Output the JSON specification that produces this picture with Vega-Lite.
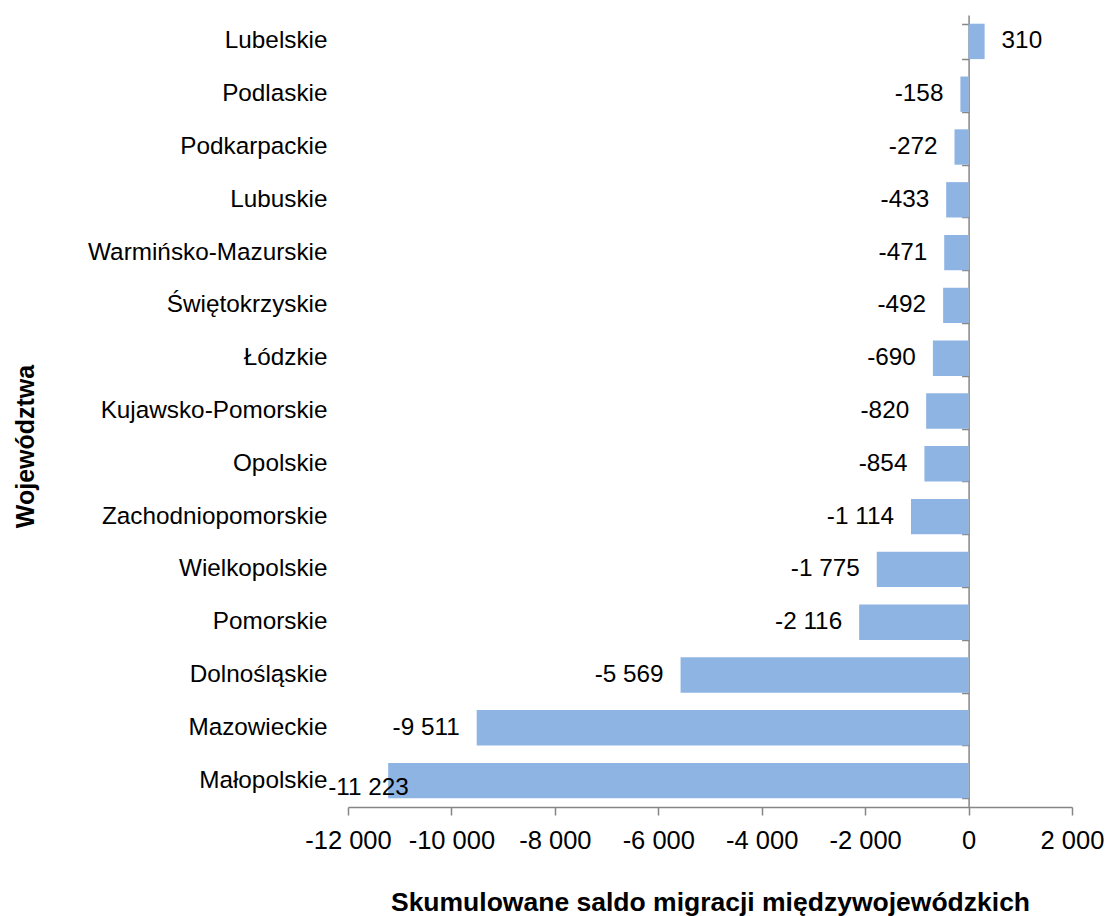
{
  "$schema": "https://vega.github.io/schema/vega-lite/v6.json",
  "width": 724,
  "height": 792,
  "autosize": {"type": "none"},
  "padding": {"left": 348, "top": 15, "right": 35, "bottom": 109},
  "background": "white",
  "config": {
    "view": {"stroke": null},
    "font": "Liberation Sans",
    "locale": {"number": {"decimal": ",", "thousands": " ", "grouping": [3], "currency": ["", ""], "minus": "-"}}
  },
  "data": {
    "values": [
      {"region": "Lubelskie", "value": 310},
      {"region": "Podlaskie", "value": -158},
      {"region": "Podkarpackie", "value": -272},
      {"region": "Lubuskie", "value": -433},
      {"region": "Warmińsko-Mazurskie", "value": -471},
      {"region": "Świętokrzyskie", "value": -492},
      {"region": "Łódzkie", "value": -690},
      {"region": "Kujawsko-Pomorskie", "value": -820},
      {"region": "Opolskie", "value": -854},
      {"region": "Zachodniopomorskie", "value": -1114},
      {"region": "Wielkopolskie", "value": -1775},
      {"region": "Pomorskie", "value": -2116},
      {"region": "Dolnośląskie", "value": -5569},
      {"region": "Mazowieckie", "value": -9511},
      {"region": "Małopolskie", "value": -11223}
    ]
  },
  "resolve": {"axis": {"y": "independent"}},
  "layer": [
    {
      "mark": {"type": "bar", "color": "#8eb4e3"},
      "encoding": {
        "y": {
          "field": "region", "type": "nominal", "sort": null,
          "scale": {"paddingInner": 0.33, "paddingOuter": 0.165},
          "axis": {
            "orient": "left", "domain": false, "ticks": false, "tickSize": 0,
            "labelPadding": 21, "labelFontSize": 24.3, "labelColor": "#000000",
            "labelFont": "Liberation Sans", "labelLimit": 400,
            "title": "Województwa", "titleFont": "Liberation Sans", "titleFontSize": 25,
            "titleFontWeight": "bold", "titleColor": "#000000",
            "titleX": -323, "titleY": 431, "titleAngle": 270, "titleBaseline": "middle", "titleAlign": "center"
          }
        },
        "x": {
          "field": "value", "type": "quantitative",
          "scale": {"domain": [-12000, 2000], "nice": false, "zero": false},
          "axis": {
            "values": [-12000, -10000, -8000, -6000, -4000, -2000, 0, 2000],
            "format": ",d", "grid": false,
            "domainColor": "#868686", "domainWidth": 1.5,
            "tickColor": "#868686", "tickWidth": 1.5, "tickSize": 8,
            "labelPadding": 13, "labelFontSize": 25.5, "labelColor": "#000000", "labelFont": "Liberation Sans",
            "labelFlush": false, "labelOverlap": false,
            "title": "Skumulowane saldo migracji międzywojewódzkich",
            "titleFont": "Liberation Sans", "titleFontSize": 26.5, "titleFontWeight": "bold", "titleColor": "#000000",
            "titleBaseline": "alphabetic", "titleY": 103
          }
        }
      }
    },
    {
      "mark": {"type": "bar", "opacity": 0},
      "encoding": {
        "y": {
          "field": "region", "type": "nominal", "sort": null,
          "axis": {
            "orient": "right", "offset": -103.4, "labels": false, "title": null,
            "domainColor": "#868686", "domainWidth": 1.5,
            "ticks": true, "tickBand": "extent", "tickSize": -7, "tickColor": "#868686", "tickWidth": 1.5
          }
        },
        "x": {"field": "value", "type": "quantitative"}
      }
    },
    {
      "transform": [{"filter": "datum.value < 0 && datum.value > -10000"}],
      "mark": {"type": "text", "align": "right", "baseline": "middle", "dx": -17, "fontSize": 24.3, "font": "Liberation Sans", "color": "#000000"},
      "encoding": {
        "y": {"field": "region", "type": "nominal", "sort": null, "axis": null},
        "x": {"field": "value", "type": "quantitative"},
        "text": {"field": "value", "type": "quantitative", "format": ",d"}
      }
    },
    {
      "transform": [{"filter": "datum.value >= 0"}],
      "mark": {"type": "text", "align": "left", "baseline": "middle", "dx": 17, "fontSize": 24.3, "font": "Liberation Sans", "color": "#000000"},
      "encoding": {
        "y": {"field": "region", "type": "nominal", "sort": null, "axis": null},
        "x": {"field": "value", "type": "quantitative"},
        "text": {"field": "value", "type": "quantitative", "format": ",d"}
      }
    },
    {
      "transform": [{"filter": "datum.value <= -10000"}],
      "mark": {"type": "text", "align": "left", "baseline": "middle", "dx": -60, "dy": 7, "fontSize": 24.3, "font": "Liberation Sans", "color": "#000000"},
      "encoding": {
        "y": {"field": "region", "type": "nominal", "sort": null, "axis": null},
        "x": {"field": "value", "type": "quantitative"},
        "text": {"field": "value", "type": "quantitative", "format": ",d"}
      }
    }
  ]
}
